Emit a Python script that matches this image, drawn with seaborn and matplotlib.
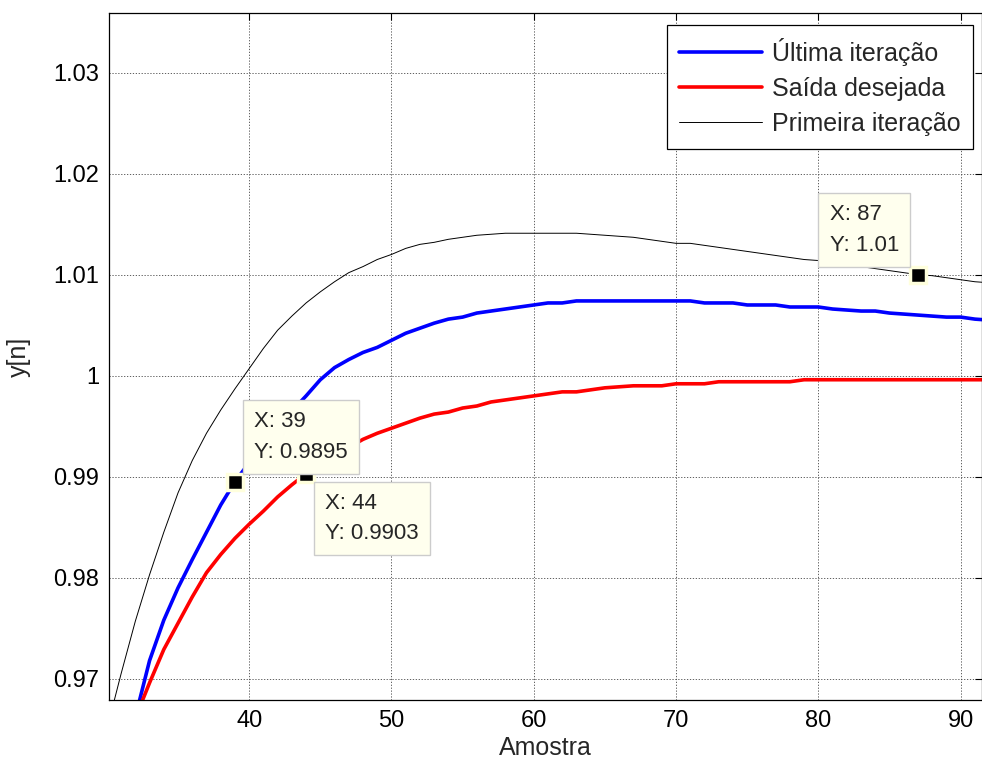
import numpy as np
import pandas as pd
import matplotlib
matplotlib.use("Agg")
import matplotlib.pyplot as plt
import seaborn as sns
from matplotlib.ticker import FuncFormatter

# ---------------- data ----------------
amostra = list(range(30, 93))

primeira = [0.9650, 0.9705, 0.9757, 0.9803, 0.9845, 0.9884, 0.9916, 0.9943, 0.9966, 0.9987,
            1.0007, 1.0027, 1.0045, 1.0059, 1.0072, 1.0083, 1.0093, 1.0102, 1.0108, 1.0115,
            1.0120, 1.0126, 1.0130, 1.0132, 1.0135, 1.0137, 1.0139, 1.0140, 1.0141, 1.0141,
            1.0141, 1.0141, 1.0141, 1.0141, 1.0140, 1.0139, 1.0138, 1.0137, 1.0135, 1.0133,
            1.0131, 1.0131, 1.0129, 1.0127, 1.0125, 1.0123, 1.0121, 1.0119, 1.0117, 1.0115,
            1.0114, 1.0112, 1.0110, 1.0108, 1.0106, 1.0104, 1.0102, 1.0100, 1.0099, 1.0097,
            1.0095, 1.0093, 1.0092]

ultima = [0.9550, 0.9605, 0.9662, 0.9718, 0.9758, 0.9790, 0.9818, 0.9845, 0.9872, 0.9895,
          0.9914, 0.9932, 0.9949, 0.9965, 0.9980, 0.9996, 1.0008, 1.0016, 1.0023, 1.0028,
          1.0035, 1.0042, 1.0047, 1.0052, 1.0056, 1.0058, 1.0062, 1.0064, 1.0066, 1.0068,
          1.0070, 1.0072, 1.0072, 1.0074, 1.0074, 1.0074, 1.0074, 1.0074, 1.0074, 1.0074,
          1.0074, 1.0074, 1.0072, 1.0072, 1.0072, 1.0070, 1.0070, 1.0070, 1.0068, 1.0068,
          1.0068, 1.0066, 1.0065, 1.0064, 1.0064, 1.0062, 1.0061, 1.0060, 1.0059, 1.0058,
          1.0058, 1.0056, 1.0055]

desejada = [0.9585, 0.9624, 0.9661, 0.9696, 0.9729, 0.9755, 0.9781, 0.9805, 0.9823, 0.9839,
            0.9853, 0.9866, 0.9880, 0.9892, 0.9903, 0.9912, 0.9921, 0.9929, 0.9937, 0.9943,
            0.9948, 0.9953, 0.9958, 0.9962, 0.9964, 0.9968, 0.9970, 0.9974, 0.9976, 0.9978,
            0.9980, 0.9982, 0.9984, 0.9984, 0.9986, 0.9988, 0.9989, 0.9990, 0.9990, 0.9990,
            0.9992, 0.9992, 0.9992, 0.9994, 0.9994, 0.9994, 0.9994, 0.9994, 0.9994, 0.9996,
            0.9996, 0.9996, 0.9996, 0.9996, 0.9996, 0.9996, 0.9996, 0.9996, 0.9996, 0.9996,
            0.9996, 0.9996, 0.9996]

labels = ["Última iteração", "Saída desejada", "Primeira iteração"]

# data tips (X, Y shown)
tip_x = [39, 44, 87]
tip_y = [0.9895, 0.9903, 1.01]
tip_txt = ["X: 39\nY: 0.9895", "X: 44\nY: 0.9903", "X: 87\nY: 1.01"]

x_ticks = [40, 50, 60, 70, 80, 90]
y_ticks = [0.97, 0.98, 0.99, 1.00, 1.01, 1.02, 1.03]

# ---------------- style ----------------
sns.set_style("white")
plt.rcParams["font.family"] = ["Liberation Sans", "DejaVu Sans"]

fig = plt.figure(figsize=(9.82, 7.73), dpi=100)
ax = fig.add_axes([109 / 982, 73 / 773, 873 / 982, 687 / 773])

df = pd.DataFrame({"Amostra": amostra, "ultima": ultima,
                   "desejada": desejada, "primeira": primeira})

sns.lineplot(data=df, x="Amostra", y="ultima", ax=ax, color="#0000FF",
             linewidth=2.6, label=labels[0])
sns.lineplot(data=df, x="Amostra", y="desejada", ax=ax, color="#FF0000",
             linewidth=2.6, label=labels[1])
sns.lineplot(data=df, x="Amostra", y="primeira", ax=ax, color="black",
             linewidth=0.7, label=labels[2])

ax.set_xlim(30.15, 91.5)
ax.set_ylim(0.9679, 1.0359)
ax.set_xticks(x_ticks)
ax.set_yticks(y_ticks)
ax.yaxis.set_major_formatter(FuncFormatter(lambda v, p: f"{v:g}"))

ax.grid(True, linestyle=(0, (1.5, 2)), color="#444444", linewidth=0.6)
ax.tick_params(direction="in", top=True, right=True, length=5, width=0.8,
               labelsize=17, pad=7, colors="black")
for s in ax.spines.values():
    s.set_visible(True)
    s.set_color("black")
    s.set_linewidth(0.9)

ax.set_xlabel("Amostra", fontsize=18, labelpad=3)
ax.set_ylabel("y[n]", fontsize=18, labelpad=16)

# data tips
ax.plot(tip_x, tip_y, linestyle="none", marker="s", markersize=11,
        markerfacecolor="black", markeredgecolor="#FFFFDD", markeredgewidth=2.5,
        zorder=6)
offsets = [(19, 19, "left", "bottom"), (19, -19, "left", "top"), (-19, 19, "right", "bottom")]
for xx, yy, t, (dx, dy, ha, va) in zip(tip_x, tip_y, tip_txt, offsets):
    ax.annotate(t, xy=(xx, yy), xytext=(dx, dy), textcoords="offset pixels",
                ha=ha, va=va, multialignment="left", fontsize=16, linespacing=1.6,
                zorder=7,
                bbox=dict(boxstyle="square,pad=0.5", facecolor="#FFFFEE",
                          edgecolor="#CCCCCC", linewidth=1))

leg = ax.legend(loc="upper right", bbox_to_anchor=(0.9897, 0.9825),
                borderaxespad=0, fontsize=18, frameon=True, fancybox=False,
                edgecolor="black", handlelength=3.3, handletextpad=0.4,
                labelspacing=0.45, borderpad=0.5)
leg.get_frame().set_linewidth(0.9)
leg.get_frame().set_alpha(1)

fig.savefig("out.png", dpi=100)
